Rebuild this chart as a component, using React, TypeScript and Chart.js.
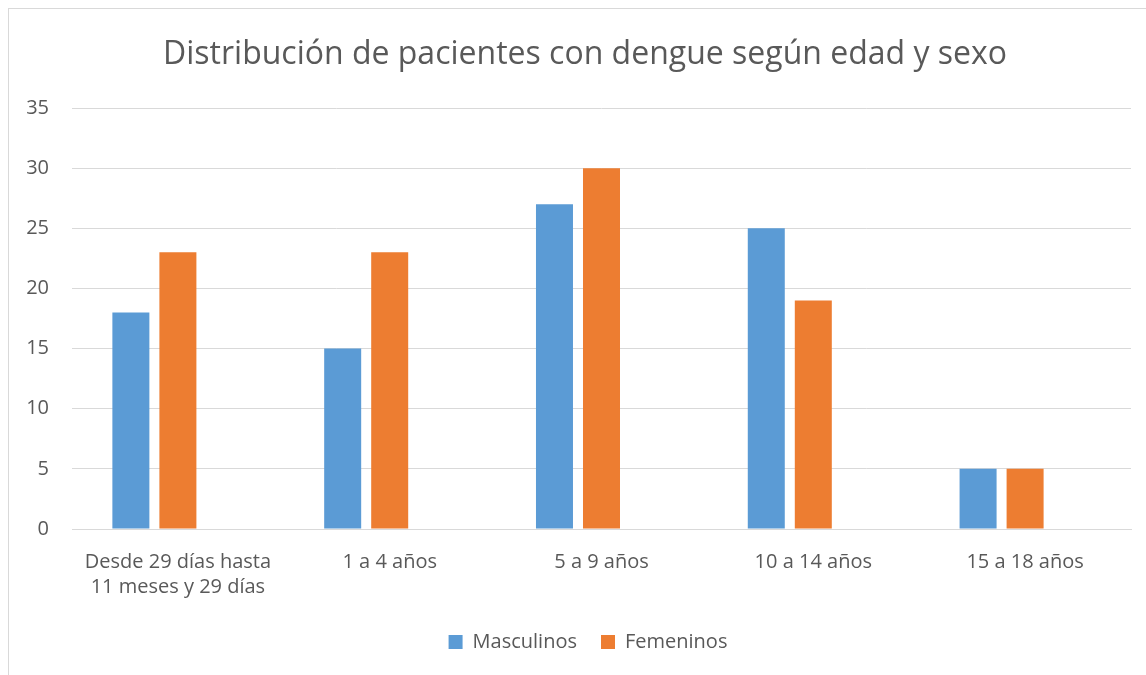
import React, { useEffect, useRef } from "react";
import { Chart, registerables } from "chart.js";

Chart.register(...registerables);

const TITLE = "Distribución de pacientes con dengue según edad y sexo";
const categories: (string | string[])[] = [
  ["Desde 29 días hasta", "11 meses y 29 días"],
  "1 a 4 años",
  "5 a 9 años",
  "10 a 14 años",
  "15 a 18 años",
];
const masculinos = [18, 15, 27, 25, 5];
const femeninos = [23, 23, 30, 19, 5];
const vacio = [null, null, null, null, null];
const yTicks = [0, 5, 10, 15, 20, 25, 30, 35];

const TEXT = "#595959";
const GRID = "#D9D9D9";
const FONT = "'Open Sans', 'Noto Sans', sans-serif";

const titlePlugin = {
  id: "offsetTitle",
  afterLayout(chart: any) {
    if (chart.legend) {
      chart.legend.left += 18;
      chart.legend.right += 18;
    }
  },
  afterDraw(chart: any) {
    const ctx = chart.ctx;
    ctx.save();
    ctx.font = `normal 32px ${FONT}`;
    ctx.fillStyle = TEXT;
    ctx.textAlign = "center";
    ctx.textBaseline = "middle";
    ctx.fillText(TITLE, 576, 46);
    ctx.restore();
  },
};

export default function App() {
  const ref = useRef<HTMLCanvasElement | null>(null);
  useEffect(() => {
    if (!ref.current) return;
    const chart = new Chart(ref.current, {
      type: "bar",
      data: {
        labels: categories,
        datasets: [
          {
            label: "Masculinos",
            data: masculinos,
            backgroundColor: "#5B9BD5",
            categoryPercentage: 0.666,
            barPercentage: 0.787,
          },
          {
            label: "Femeninos",
            data: femeninos,
            backgroundColor: "#ED7D31",
            categoryPercentage: 0.666,
            barPercentage: 0.787,
          },
          {
            label: "",
            data: vacio as any,
            backgroundColor: "rgba(0,0,0,0)",
            categoryPercentage: 0.666,
            barPercentage: 0.787,
          },
        ],
      },
      plugins: [titlePlugin],
      options: {
        responsive: false,
        animation: false,
        layout: { padding: { left: 0, right: 16, top: 99, bottom: 14 } },
        plugins: {
          title: { display: false, text: TITLE },
          legend: {
            position: "bottom",
            labels: {
              color: TEXT,
              font: { family: FONT, size: 20 },
              boxWidth: 14,
              boxHeight: 14,
              padding: 24,
              filter: (item: any) => item.text !== "",
            },
          },
          tooltip: { enabled: false },
        },
        scales: {
          x: {
            grid: { display: false, drawTicks: false },
            border: { display: true, color: GRID, width: 1 },
            ticks: {
              color: TEXT,
              font: { family: FONT, size: 20, lineHeight: 1.28 },
              padding: 20,
              maxRotation: 0,
              autoSkip: false,
            },
            afterFit: (scale: any) => {
              scale.height = 79;
            },
          },
          y: {
            min: 0,
            max: 35,
            afterBuildTicks: (scale: any) => {
              scale.ticks = yTicks.map((v) => ({ value: v }));
            },
            grid: { color: GRID, lineWidth: 1, drawTicks: false },
            border: { display: false },
            ticks: {
              color: TEXT,
              font: { family: FONT, size: 20 },
              padding: 23,
            },
            afterFit: (scale: any) => {
              scale.width = 63;
            },
          },
        },
      },
    });
    return () => chart.destroy();
  }, []);

  return (
    <div
      style={{
        position: "fixed",
        left: 8,
        top: 8,
        width: 1200,
        height: 700,
        borderTop: "1px solid #D9D9D9",
        borderLeft: "1px solid #D9D9D9",
        background: "#fff",
        overflow: "hidden",
      }}
    >
      <canvas ref={ref} width={1138} height={667} style={{ display: "block", width: 1138, height: 667 }} />
    </div>
  );
}
